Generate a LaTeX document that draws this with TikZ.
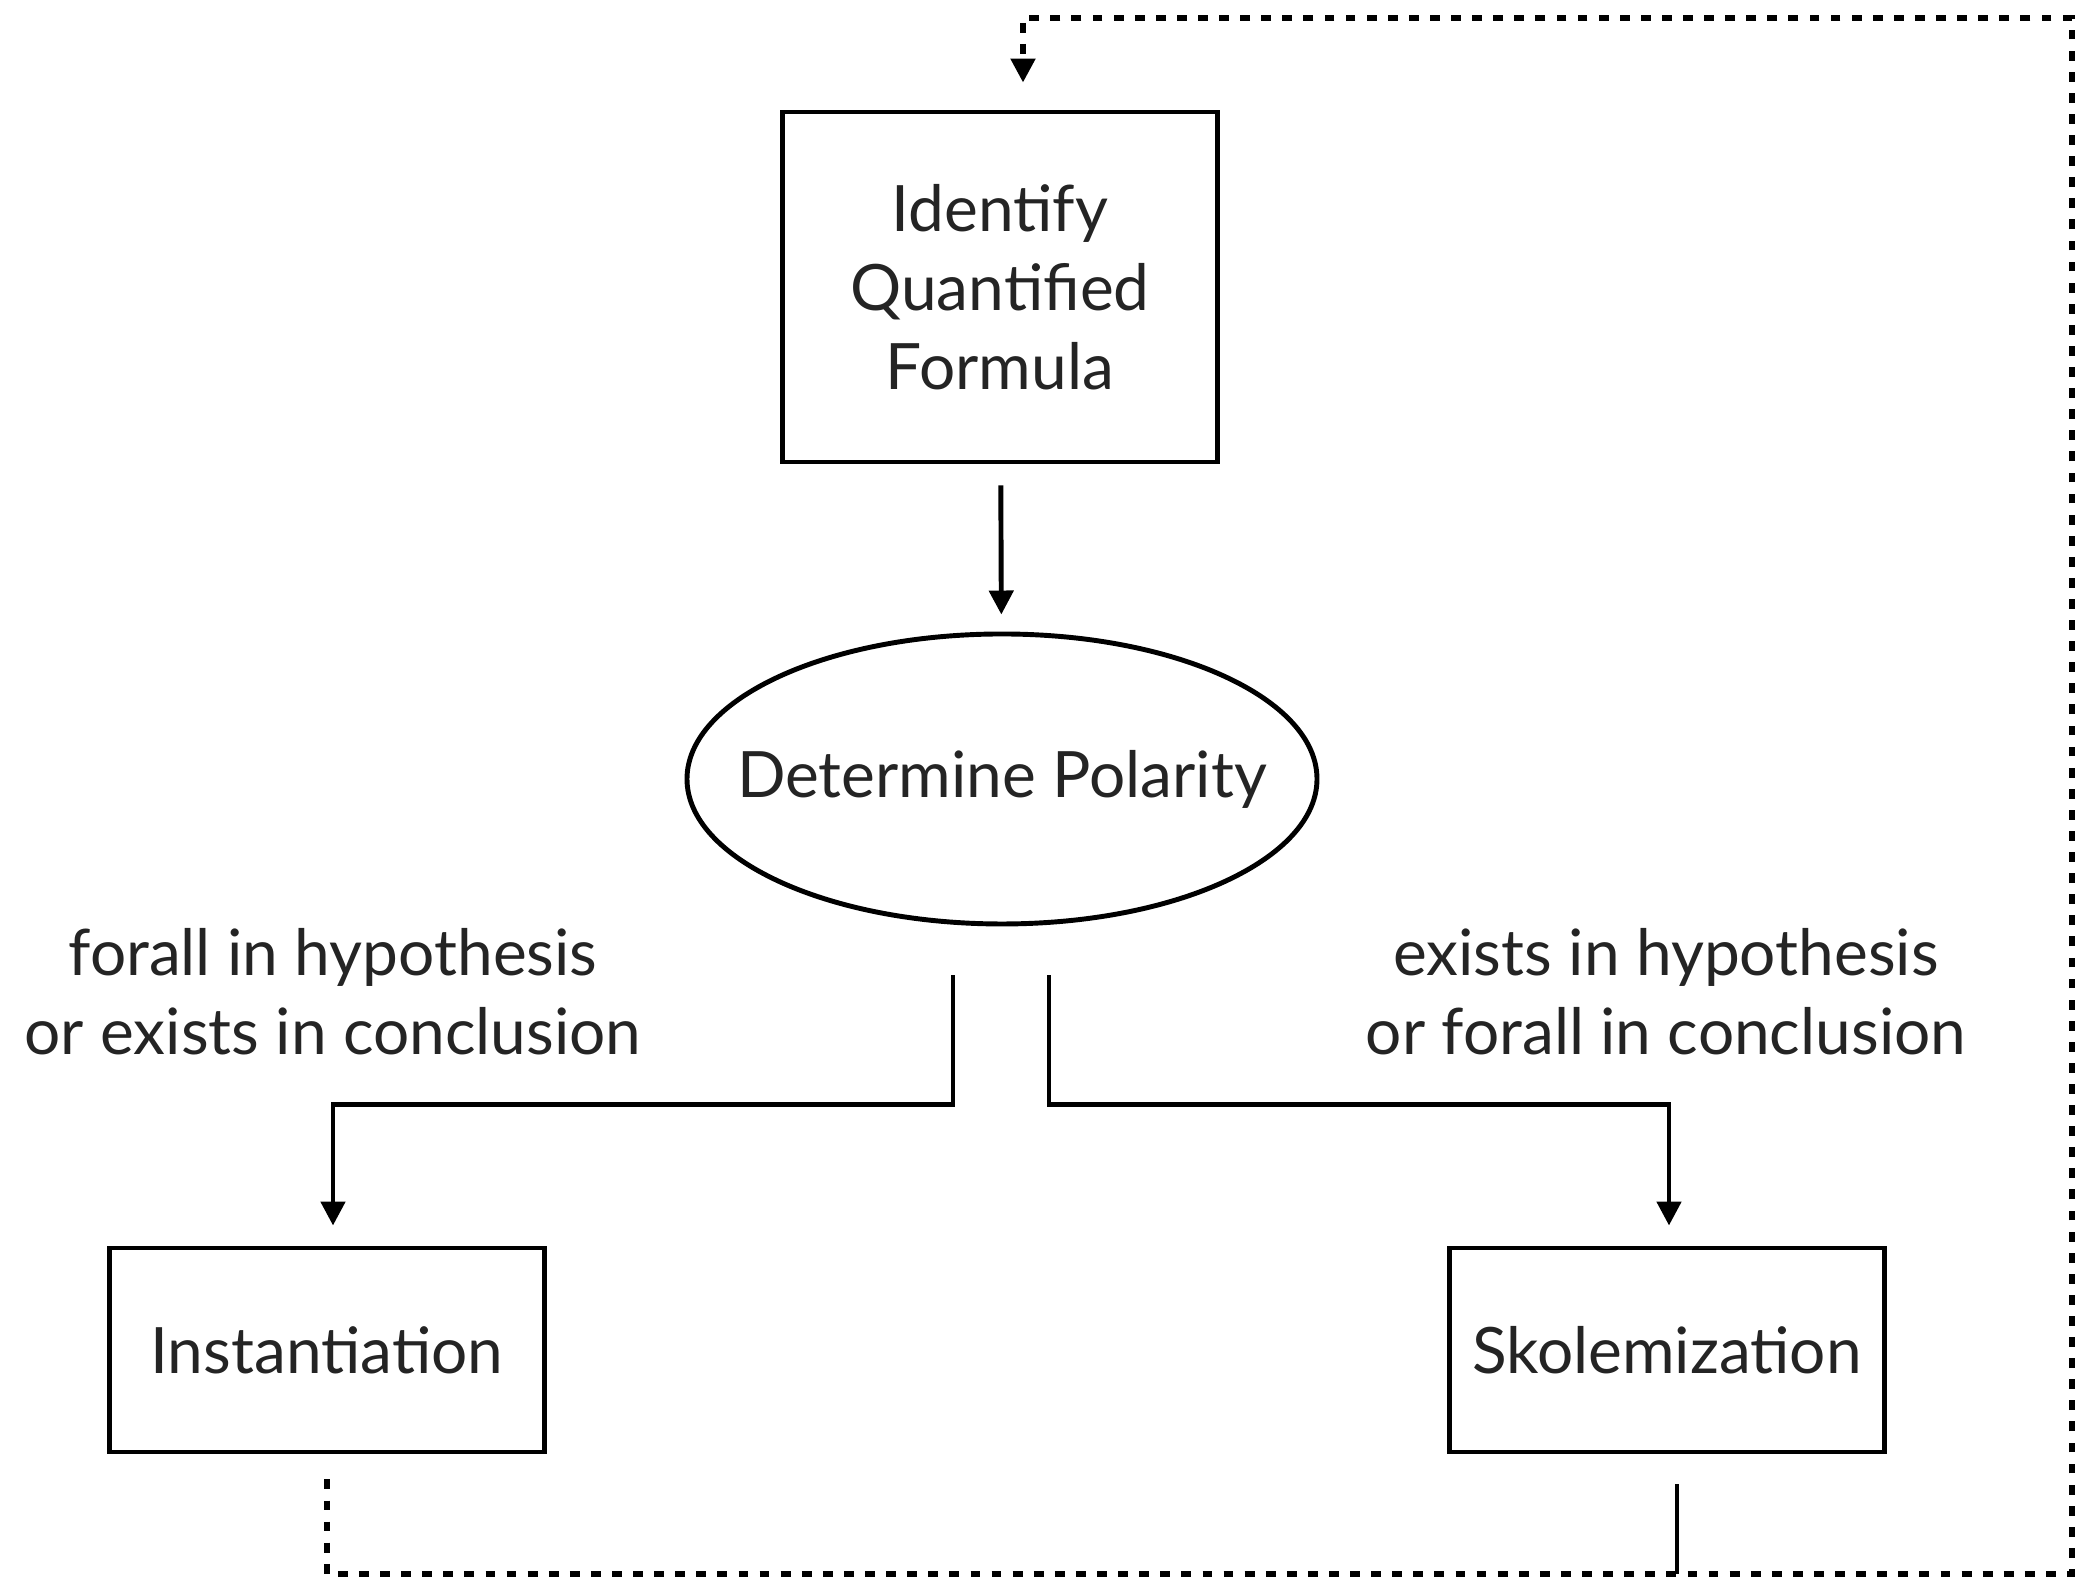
\documentclass[tikz,border=0pt]{standalone}
\usepackage{fontspec}
\setmainfont{Lato}
\usetikzlibrary{arrows.meta,shapes.geometric}

\begin{document}
\begin{tikzpicture}[
    every node/.style={font=\fontsize{18.2}{22.5}\selectfont, text=black!86},
    stepbox/.style={draw=black, line width=1.4pt, align=center, minimum width=4.35cm},
    polar/.style={draw=black, ellipse, line width=1.4pt, minimum width=6.3cm, minimum height=2.9cm, inner sep=0pt},
    link/.style={line width=1.4pt, -{Triangle[width=0.24cm,length=0.24cm]}},
    loopline/.style={line width=1.5pt, dash pattern=on 2.8pt off 3.2pt}
]
    \useasboundingbox (0,0) rectangle (20.75,15.77);

    
    \node[stepbox, minimum height=3.5cm] (idf) at (10.0,12.9) {Identify\\Quantified\\Formula};
    \node[polar, label=center:Determine Polarity] (pol) at (10.02,7.98) {};
    \node[stepbox, minimum height=2.04cm] (inst) at (3.27,2.27) {Instantiation};
    \node[stepbox, minimum height=2.04cm] (skol) at (16.67,2.27) {Skolemization};

    
    \node[align=center] (lbl1) at (3.33,5.85) {forall in hypothesis\\or exists in conclusion};
    \node[align=center] (lbl2) at (16.66,5.85) {exists in hypothesis\\or forall in conclusion};

    
    \draw[link, shorten <=0.21cm, shorten >=0.17cm] (idf) -- (pol);
    \draw[link] ([xshift=-0.49cm, yshift=-0.49cm]pol.south) -- ++(0,-1.29) -| ([xshift=0.06cm, yshift=0.2cm]inst.north);
    \draw[link] ([xshift=0.47cm, yshift=-0.49cm]pol.south) -- ++(0,-1.29) -| ([xshift=0.02cm, yshift=0.2cm]skol.north);

    
    \coordinate (br) at (20.72,0.03);
    \coordinate (tr) at (20.72,15.59);
    \draw[loopline, -{Triangle[width=0.24cm,length=0.24cm]}] ([yshift=-0.25cm]inst.south) |- (br) -- (tr) -| ([xshift=0.23cm, yshift=0.27cm]idf.north);
    \draw[line width=1.4pt] ([xshift=0.1cm, yshift=-0.3cm]skol.south) -- ([xshift=0.1cm]skol.south |- br);
\end{tikzpicture}
\end{document}
